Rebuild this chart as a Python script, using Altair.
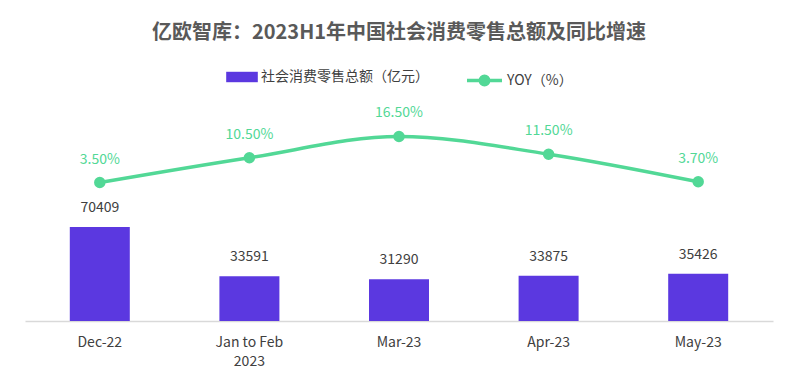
import altair as alt
import pandas as pd

months = ["Dec-22", "Jan to Feb 2023", "Mar-23", "Apr-23", "May-23"]
sales = [70409, 33591, 31290, 33875, 35426]
yoy = [3.50, 10.50, 16.50, 11.50, 3.70]

bar_name = "社会消费零售总额（亿元）"
line_name = "YOY（%）"

df = pd.DataFrame({"month": months, "sales": sales, "yoy": yoy})
df["bar_series"] = bar_name
df["line_series"] = line_name

FONT = "Noto Sans CJK SC"
PURPLE = "#5B38E0"
GREEN = "#52D896"
TXT = "#404040"

x_enc = alt.X(
    "month:N",
    sort=months,
    title=None,
    scale=alt.Scale(paddingInner=0.6, paddingOuter=0.3),
    axis=alt.Axis(
        labelAngle=0,
        ticks=False,
        domainColor="#d9d9d9",
        domainWidth=1.5,
        labelFont=FONT,
        labelFontSize=14,
        labelColor=TXT,
        labelPadding=14,
        labelLineHeight=19,
        labelExpr="datum.value == 'Jan to Feb 2023' ? ['Jan to Feb', '2023'] : datum.value",
    ),
)

base = alt.Chart(df)

bars = base.mark_bar(size=60).encode(
    x=x_enc,
    y=alt.Y("sales:Q", scale=alt.Scale(domain=[0, 165500]), axis=None),
    color=alt.Color(
        "bar_series:N",
        scale=alt.Scale(domain=[bar_name], range=[PURPLE]),
        legend=alt.Legend(
            title=None,
            orient="none",
            legendX=201,
            legendY=-39,
            symbolType="M-1,-0.33H1V0.33H-1Z",
            symbolSize=1000,
            symbolStrokeWidth=0,
            labelFont=FONT,
            labelFontSize=14,
            labelColor=TXT,
            labelOffset=3,
            labelLimit=400,
        ),
    ),
)

bar_text = base.mark_text(
    baseline="bottom", dy=-12, font=FONT, fontSize=14, color=TXT
).encode(
    x=alt.X("month:N", sort=months),
    y=alt.Y("sales:Q", scale=alt.Scale(domain=[0, 165500]), axis=None),
    text=alt.Text("sales:Q", format="d"),
)

line = base.mark_line(
    interpolate="monotone", strokeWidth=3.5,
    point=alt.OverlayMarkDef(size=90, filled=True, color=GREEN, opacity=1),
).encode(
    x=alt.X("month:N", sort=months),
    y=alt.Y("yoy:Q", scale=alt.Scale(domain=[-35.6, 26.8]), axis=None),
    stroke=alt.Stroke(
        "line_series:N",
        scale=alt.Scale(domain=[line_name], range=[GREEN]),
        legend=alt.Legend(
            title=None,
            orient="none",
            legendX=440,
            legendY=-39,
            symbolType="M-1,0H1M0.24,0A0.24,0.24 0 1,1 -0.24,0A0.24,0.24 0 1,1 0.24,0Z",
            symbolSize=1225,
            symbolStrokeWidth=3.5,
            symbolFillColor=GREEN,
            labelFont=FONT,
            labelFontSize=14,
            labelColor=TXT,
            labelOffset=3,
            labelLimit=400,
        ),
    ),
)

line_text = base.transform_calculate(
    lab="format(datum.yoy, '.2f') + '%'"
).mark_text(
    baseline="bottom", dy=-16, font=FONT, fontSize=14, color=GREEN
).encode(
    x=alt.X("month:N", sort=months),
    y=alt.Y("yoy:Q", scale=alt.Scale(domain=[-35.6, 26.8]), axis=None),
    text="lab:N",
)

chart = (
    alt.layer(bars, bar_text, line, line_text)
    .resolve_scale(y="independent", color="independent")
    .properties(
        width=748,
        height=221,
        background="white",
        autosize=alt.AutoSizeParams(type="none"),
        padding={"left": 17, "top": 92, "right": 14, "bottom": 50},
        title=alt.TitleParams(
            "亿欧智库：2023H1年中国社会消费零售总额及同比增速",
            font=FONT,
            fontSize=20,
            fontWeight="bold",
            color="#595959",
            anchor="middle",
            offset=18,
        ),
    )
    .configure_view(strokeWidth=0)
)

chart.save("out.html", embed_options={"renderer": "svg", "actions": False})
